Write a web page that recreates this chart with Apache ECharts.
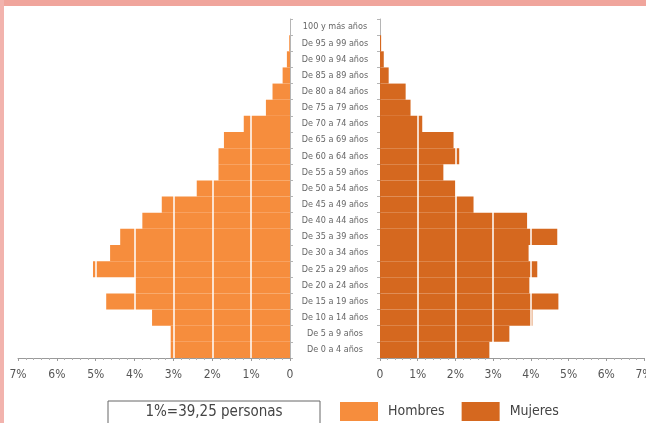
<!DOCTYPE html>
<html>
<head>
<meta charset="utf-8">
<script src="https://cdn.jsdelivr.net/npm/echarts@6/dist/echarts.min.js"></script>
<style>
html,body{margin:0;padding:0;background:#fff;}
#c{width:646px;height:423px;}
</style>
</head>
<body>
<div id="c"></div>
<script>
var categories = ['100 y más años','De 95 a 99 años','De 90 a 94 años','De 85 a 89 años','De 80 a 84 años','De 75 a 79 años','De 70 a 74 años','De 65 a 69 años','De 60 a 64 años','De 55 a 59 años','De 50 a 54 años','De 45 a 49 años','De 40 a 44 años','De 35 a 39 años','De 30 a 34 años','De 25 a 29 años','De 20 a 24 años','De 15 a 19 años','De 10 a 14 años','De 5 a 9 años','De 0 a 4 años'];
var hombres = [0, 0.02, 0.08, 0.19, 0.45, 0.62, 1.19, 1.7, 1.84, 1.84, 2.4, 3.3, 3.8, 4.37, 4.63, 5.07, 3.98, 4.73, 3.55, 3.07, 3.07];
var mujeres = [0, 0.03, 0.1, 0.23, 0.68, 0.81, 1.12, 1.95, 2.1, 1.68, 2.0, 2.48, 3.9, 4.7, 3.94, 4.17, 3.96, 4.73, 4.04, 3.43, 2.9];
var tickLabels = ['0','1%','2%','3%','4%','5%','6%','7%'];
var gridLines = [1,2,3,4,5,6,7];
var note = '1%=39,25 personas';

var FONT = "'Liberation Sans Narrow','DejaVu Sans Condensed',sans-serif";
var chart = echarts.init(document.getElementById('c'));

function xAx(idx, inv){
  return {
    type:'value', gridIndex:idx, min:0, max:7, interval:1, inverse:inv,
    axisLine:{show:true, lineStyle:{color:'#9a9a9a', width:1}},
    axisTick:{show:true, length:3, lineStyle:{color:'#9a9a9a'}},
    minorTick:{show:true, splitNumber:5, length:2, lineStyle:{color:'#b0b0b0'}},
    splitLine:{show:false},
    axisLabel:{color:'#555', fontSize:12, fontFamily:FONT, margin:11,
      formatter:function(v){return tickLabels[Math.round(v)];}}
  };
}
function yAx(idx, pos, showLabel){
  return {
    type:'category', gridIndex:idx, data:categories, inverse:true, position:pos,
    axisLine:{show:true, lineStyle:{color:'#b5b5b5'}},
    axisTick:{show:true, length:3, lineStyle:{color:'#b5b5b5'}},
    axisLabel:{show:showLabel, color:'#666', fontSize:9, fontFamily:FONT, align:'center', margin:45},
    splitLine:{show:false}
  };
}
var ml = {
  silent:true, symbol:['none','none'], label:{show:false},
  lineStyle:{color:'#ffffff', width:1.5, type:'solid', opacity:1},
  emphasis:{disabled:true},
  data: gridLines.map(function(v){return {xAxis:v};})
};

chart.setOption({
  animation:false,
  backgroundColor:'#ffffff',
  grid:[
    {left:18, width:272, top:19, bottom:65, outerBoundsMode:'none', containLabel:false},
    {left:380, width:264, top:19, bottom:65, outerBoundsMode:'none', containLabel:false}
  ],
  xAxis:[xAx(0,true), xAx(1,false)],
  yAxis:[yAx(0,'right',true), yAx(1,'left',false)],
  legend:{
    data:['Hombres','Mujeres'], left:335, top:397, icon:'rect',
    itemWidth:38, itemHeight:19, itemGap:17,
    textStyle:{color:'#444', fontSize:14, fontFamily:FONT, padding:[0,0,0,5]}
  },
  graphic:[
    {type:'rect', left:0, top:0, shape:{width:646, height:6}, style:{fill:'#f0a59c'}, silent:true},
    {type:'rect', left:0, top:0, shape:{width:4, height:423}, style:{fill:'#f2b3ad'}, silent:true},
    {type:'rect', x:108, y:401, shape:{x:0, y:0, width:212, height:30}, style:{fill:'none', stroke:'#666', lineWidth:1}, silent:true},
    {type:'text', x:214, y:412, style:{text:note, align:'center', verticalAlign:'middle', fill:'#444', fontSize:15, fontFamily:FONT}, silent:true}
  ],
  series:[
    {name:'Hombres', type:'bar', xAxisIndex:0, yAxisIndex:0, data:hombres,
     barCategoryGap:'0%', itemStyle:{color:'#f68d3d'}, markLine:ml},
    {name:'Mujeres', type:'bar', xAxisIndex:1, yAxisIndex:1, data:mujeres,
     barCategoryGap:'0%', itemStyle:{color:'#d5681f'}, markLine:ml}
  ]
});
</script>
</body>
</html>
